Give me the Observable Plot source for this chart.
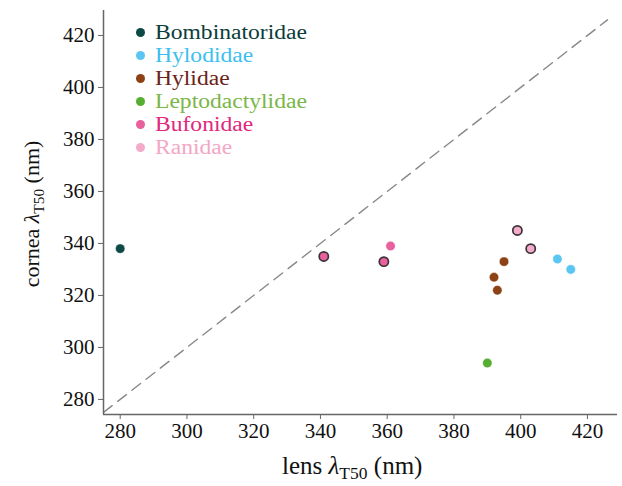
<!DOCTYPE html>
<html>
<head>
<meta charset="utf-8">
<script src="https://cdn.jsdelivr.net/npm/d3@7"></script>
<script src="https://cdn.jsdelivr.net/npm/@observablehq/plot@0.6"></script>
<style>
  body { margin: 0; background: #fff; }
  #wrap, #wrap *, #wrap svg text, #wrap svg tspan { font-family: 'Liberation Serif', 'Times New Roman', serif !important; }
  #wrap { position: relative; width: 622px; height: 486px; }
  #legend { position: absolute; left: 136px; top: 21px; font-size: 20.5px; line-height: 23px; }
  #legend .row { display: flex; align-items: center; white-space: nowrap; height: 23px; }
  #legend .sw { width: 9px; height: 9px; border-radius: 50%; margin-right: 10px; flex: none; }
  #legend .lt { display: inline-block; transform: scaleX(1.15); transform-origin: left center; line-height: 23px; }
  .ttl { position: absolute; color: #111; white-space: nowrap; line-height: 30px; }
  #xt { font-size: 25px; }
  #yt { font-size: 22px; }
  .ttl sub { font-size: 0.7em; vertical-align: -0.3em; line-height: 0; }
</style>
</head>
<body>
<div id="wrap"></div>
<script>
// Families (legend order) and colours
const families = ["Bombinatoridae", "Hylodidae", "Hylidae", "Leptodactylidae", "Bufonidae", "Ranidae"];
const dotColors = ["#0e4a45", "#5cc6f2", "#8c4214", "#55ae30", "#e8609c", "#f3abc9"];
const textColors = ["#0b3d3a", "#3cbff0", "#6b2318", "#7ab648", "#e0287d", "#f4a6c6"];

// Data points
const family  = ["Bombinatoridae", "Bufonidae", "Bufonidae", "Bufonidae", "Ranidae", "Ranidae", "Hylidae", "Hylidae", "Hylidae", "Hylodidae", "Hylodidae", "Leptodactylidae"];
const lens    = [280, 341, 359, 361, 399, 403, 395, 392, 393, 411, 415, 390];
const cornea  = [338, 335, 333, 339, 345, 338, 333, 327, 322, 334, 330, 294];
const outlined = [false, true, true, false, true, true, false, false, false, false, false, false];

const ticks = [280, 300, 320, 340, 360, 380, 400, 420];
const diag = [275, 426];

const data = lens.map((x, i) => ({x, y: cornea[i], family: family[i], outlined: outlined[i]}));

const chart = Plot.plot({
  width: 622,
  height: 486,
  marginLeft: 103,
  marginRight: 5,
  marginTop: 10,
  marginBottom: 72,
  style: {fontFamily: "'Liberation Serif', serif", fontSize: "21px", color: "#111", background: "transparent"},
  x: {domain: [275, 429]},
  y: {domain: [274.2, 429.6]},
  color: {domain: families, range: dotColors},
  marks: [
    Plot.line(diag, {x: d => d, y: d => d, stroke: "#888", strokeWidth: 1.4, strokeDasharray: "11,7", clip: true}),
    Plot.axisX({ticks, tickSize: 5, tickPadding: 4, label: null, stroke: "#666", fontSize: 21}),
    Plot.axisY({ticks, tickSize: 5, tickPadding: 4, label: null, stroke: "#666", fontSize: 21}),
    Plot.ruleX([275], {stroke: "#666", strokeWidth: 1.5}),
    Plot.ruleY([274.2], {stroke: "#666", strokeWidth: 1.5}),
    Plot.dot(data.filter(d => !d.outlined), {x: "x", y: "y", fill: "family", r: 4.7, stroke: "white", strokeOpacity: 0.5, strokeWidth: 0.8}),
    Plot.dot(data.filter(d => d.outlined), {x: "x", y: "y", fill: "family", r: 4.6, stroke: "#3a3238", strokeWidth: 1.7})
  ]
});

const wrap = document.getElementById("wrap");
wrap.appendChild(chart);
d3.select(chart).selectAll("text").style("font-family", "'Liberation Serif', serif");

// Legend
const leg = document.createElement("div");
leg.id = "legend";
families.forEach((f, i) => {
  const row = document.createElement("div");
  row.className = "row";
  row.innerHTML = `<span class="sw" style="background:${dotColors[i]}"></span><span class="lt" style="color:${textColors[i]}">${f}</span>`;
  leg.appendChild(row);
});
wrap.appendChild(leg);

// Axis titles
const xt = document.createElement("div");
xt.className = "ttl";
xt.id = "xt";
xt.innerHTML = 'lens <i>λ</i><sub>T50</sub> (nm)';
wrap.appendChild(xt);
xt.style.left = (352 - xt.offsetWidth / 2) + "px";
xt.style.top = "451px";

const yt = document.createElement("div");
yt.className = "ttl";
yt.id = "yt";
yt.innerHTML = 'cornea <i>λ</i><sub>T50</sub> (nm)';
wrap.appendChild(yt);
const w = yt.offsetWidth, h = yt.offsetHeight;
yt.style.left = (32 - w / 2) + "px";
yt.style.top = (214 - h / 2) + "px";
yt.style.transform = "rotate(-90deg)";
</script>
</body>
</html>
